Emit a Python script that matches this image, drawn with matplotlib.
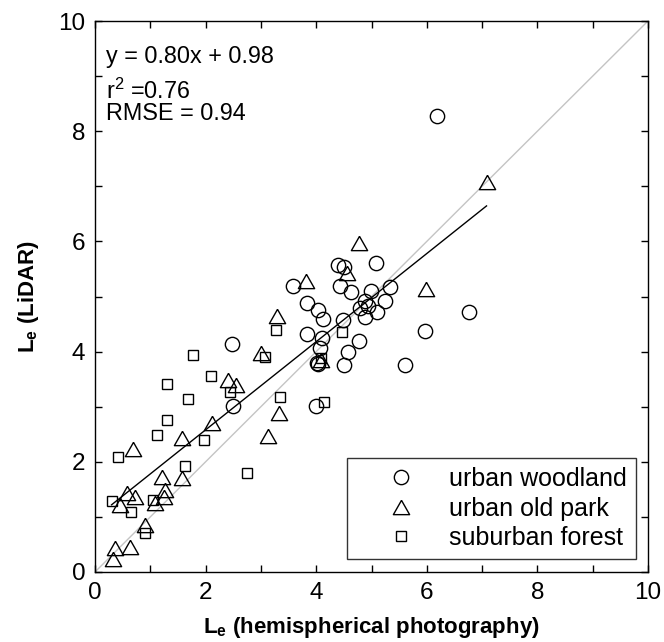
import numpy as np
import matplotlib
matplotlib.use('Agg')
import matplotlib.pyplot as plt

plt.rcParams['font.family'] = 'Liberation Sans'
plt.rcParams['mathtext.fontset'] = 'custom'
plt.rcParams['mathtext.rm'] = 'Liberation Sans'
plt.rcParams['mathtext.it'] = 'Liberation Sans:italic'
plt.rcParams['mathtext.bf'] = 'Liberation Sans:bold'

# urban woodland (circles)
wood_x = [6.19, 6.76, 5.97, 5.61, 2.47, 2.49, 3.99, 5.09, 4.40, 4.50, 3.58, 4.43,
          4.63, 4.99, 5.34, 3.83, 4.03, 4.12, 4.79, 4.89, 4.94, 5.24, 5.10, 4.88,
          4.48, 3.84, 4.11, 4.78, 4.57, 4.07, 4.04, 4.51, 4.02]
wood_y = [8.28, 4.71, 4.37, 3.76, 4.14, 3.01, 3.01, 5.61, 5.57, 5.54, 5.19, 5.19,
          5.09, 5.10, 5.17, 4.88, 4.75, 4.60, 4.79, 4.92, 4.82, 4.91, 4.72, 4.63,
          4.57, 4.32, 4.25, 4.20, 3.99, 4.06, 3.78, 3.76, 3.80]

# urban old park (triangles)
park_x = [7.08, 5.99, 4.77, 3.81, 4.55, 3.29, 4.09, 3.01, 2.40, 2.55, 3.32, 3.13,
          2.11, 1.57, 0.69, 1.22, 1.57, 0.57, 0.72, 0.45, 1.09, 1.27, 1.24, 0.90,
          0.36, 0.63, 0.33]
park_y = [7.08, 5.13, 5.98, 5.29, 5.43, 4.65, 3.84, 3.97, 3.48, 3.39, 2.89, 2.47,
          2.70, 2.43, 2.24, 1.72, 1.70, 1.43, 1.37, 1.22, 1.25, 1.49, 1.37, 0.85,
          0.43, 0.46, 0.23]

# suburban forest (squares)
forest_x = [3.28, 4.46, 1.78, 1.31, 2.09, 1.69, 1.31, 1.13, 0.42, 1.97, 1.63, 2.74,
            3.35, 2.44, 3.07, 4.14, 0.30, 0.65, 1.04, 0.90, 4.08]
forest_y = [4.39, 4.35, 3.94, 3.41, 3.55, 3.14, 2.76, 2.49, 2.09, 2.40, 1.92, 1.79,
            3.18, 3.26, 3.91, 3.08, 1.28, 1.09, 1.31, 0.70, 3.88]

slope = 0.80
intercept = 0.98
fit_range = [0.30, 7.08]

ticks = list(range(0, 11))
tick_labels = ['0', '', '2', '', '4', '', '6', '', '8', '', '10']

tri = [(0, 0.88), (-1, -0.88), (1, -0.88), (0, 0.88)]

fig = plt.figure(figsize=(6.64, 6.42), dpi=100)
ax = fig.add_axes([95/664, 70/642, 553/664, 551/642])

ax.plot([0, 10], [0, 10], color='#c4c4c4', lw=1.0, zorder=1)
fx = np.array(fit_range)
ax.plot(fx, slope*fx + intercept, color='k', lw=1.0, zorder=2)

ax.plot(wood_x, wood_y, 'o', ms=10.3, mfc='none', mec='k', mew=1.0, label='urban woodland')
ax.plot(park_x, park_y, marker=tri, ls='none', ms=11.7, mfc='none', mec='k', mew=1.0,
        label='urban old park')
ax.plot(forest_x, forest_y, 's', ms=7.5, mfc='none', mec='k', mew=1.0,
        label='suburban forest')

ax.set_xlim(0, 10)
ax.set_ylim(0, 10)
ax.set_xticks(ticks)
ax.set_yticks(ticks)
ax.set_xticklabels(tick_labels)
ax.set_yticklabels(tick_labels)
ax.tick_params(direction='in', length=5, width=1, top=True, right=True,
               labelsize=17.5, pad=7)
for s in ax.spines.values():
    s.set_linewidth(1.0)

ax.set_xlabel(r'$\mathbf{L_e}$ (hemispherical photography)', fontsize=16,
              fontweight='bold', labelpad=8)
ax.set_ylabel(r'$\mathbf{L_e}$ (LiDAR)', fontsize=16, fontweight='bold', labelpad=12)

ax.text(0.2, 9.35, 'y = 0.80x + 0.98', fontsize=16.8, va='center')
ax.text(0.2, 8.73, r'r$^2$ =0.76', fontsize=16.8, va='center')
ax.text(0.2, 8.32, 'RMSE = 0.94', fontsize=16.8, va='center')

leg = ax.legend(loc='lower right', bbox_to_anchor=(0.978, 0.024), borderaxespad=0,
                fontsize=18, frameon=True, fancybox=False, edgecolor='k',
                handlelength=3.6, handletextpad=0.15, labelspacing=0.22,
                borderpad=0.35)
leg.get_frame().set_linewidth(1.0)

plt.savefig('out.png', dpi=100)
